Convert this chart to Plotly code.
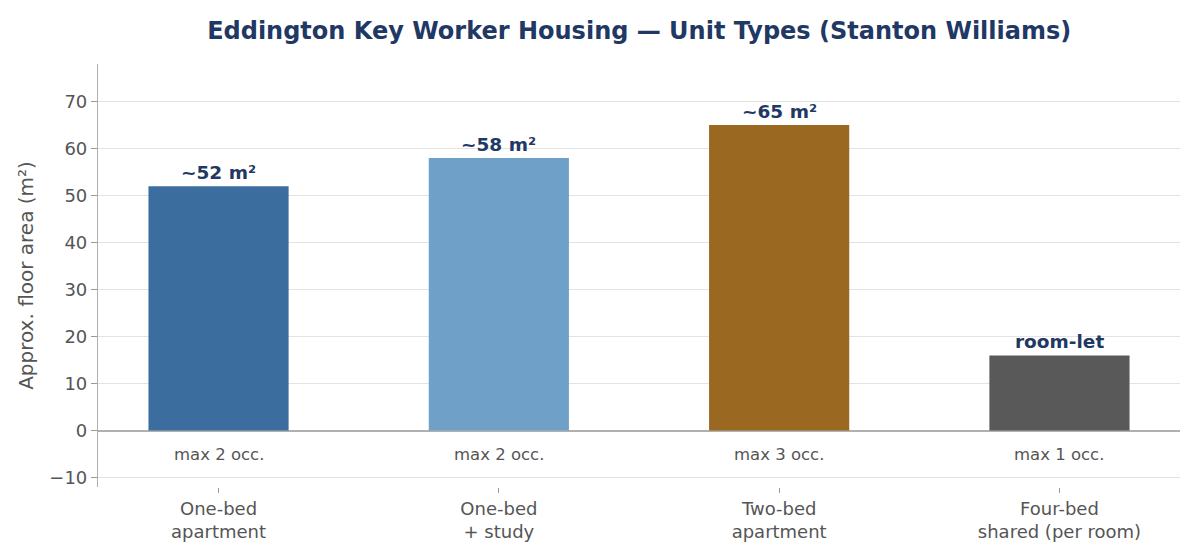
import plotly.graph_objects as go

# Unit types and approximate floor areas
units = ["One-bed<br>apartment", "One-bed<br>+ study", "Two-bed<br>apartment", "Four-bed<br>shared (per room)"]
area_m2 = [52, 58, 65, 16]
area_labels = ["~52 m²", "~58 m²", "~65 m²", "room-let"]
occupancy = ["max 2 occ.", "max 2 occ.", "max 3 occ.", "max 1 occ."]
bar_colors = ["#3b6e9e", "#6fa0c8", "#9a6820", "#595959"]

FONT = "DejaVu Sans, Noto Sans, sans-serif"
NAVY = "#1f3864"

fig = go.Figure()
fig.add_trace(go.Bar(
    x=list(range(len(units))), y=area_m2,
    marker=dict(color=bar_colors, line=dict(width=0)),
    width=0.5, showlegend=False, hoverinfo="y"
))

for i, (v, lab, occ) in enumerate(zip(area_m2, area_labels, occupancy)):
    fig.add_annotation(x=i, y=v, text=f"<b>{lab}</b>", showarrow=False,
                       yanchor="bottom", yshift=1,
                       font=dict(size=18.5, color=NAVY, family=FONT))
    fig.add_annotation(x=i, y=-5, text=occ, showarrow=False,
                       font=dict(size=16.5, color="#555555", family=FONT))

fig.update_layout(
    title=dict(text="<b>Eddington Key Worker Housing — Unit Types (Stanton Williams)</b>",
               x=0.526, xanchor="center", y=0.959, yanchor="middle",
               font=dict(size=24, color=NAVY, family=FONT)),
    width=1200, height=560,
    margin=dict(l=90, r=28, t=56, b=81),
    plot_bgcolor="white", paper_bgcolor="white",
    font=dict(family=FONT, color="#555555"),
    bargap=0.5,
)
fig.update_xaxes(
    tickmode="array", tickvals=list(range(len(units))), ticktext=units,
    range=[-0.43, 3.43], showgrid=False, zeroline=False, showline=False,
    ticks="outside", ticklen=5, tickcolor="#999999",
    tickfont=dict(size=18, color="#555555", family=FONT)
)
fig.update_yaxes(
    range=[-12, 78], tickvals=[-10, 0, 10, 20, 30, 40, 50, 60, 70],
    ticktext=["−10", "0", "10", "20", "30", "40", "50", "60", "70"],
    showgrid=True, gridcolor="#e3e3e3", gridwidth=1,
    zeroline=True, zerolinecolor="#b0b0b0", zerolinewidth=1.5,
    showline=True, linecolor="#b0b0b0", linewidth=1.2,
    ticks="outside", ticklen=6, tickcolor="#999999",
    tickfont=dict(size=18, color="#555555", family=FONT),
    title=dict(text="Approx. floor area (m²)", font=dict(size=20, color="#555555", family=FONT),
               standoff=10)
)

fig.write_html("out.html")
